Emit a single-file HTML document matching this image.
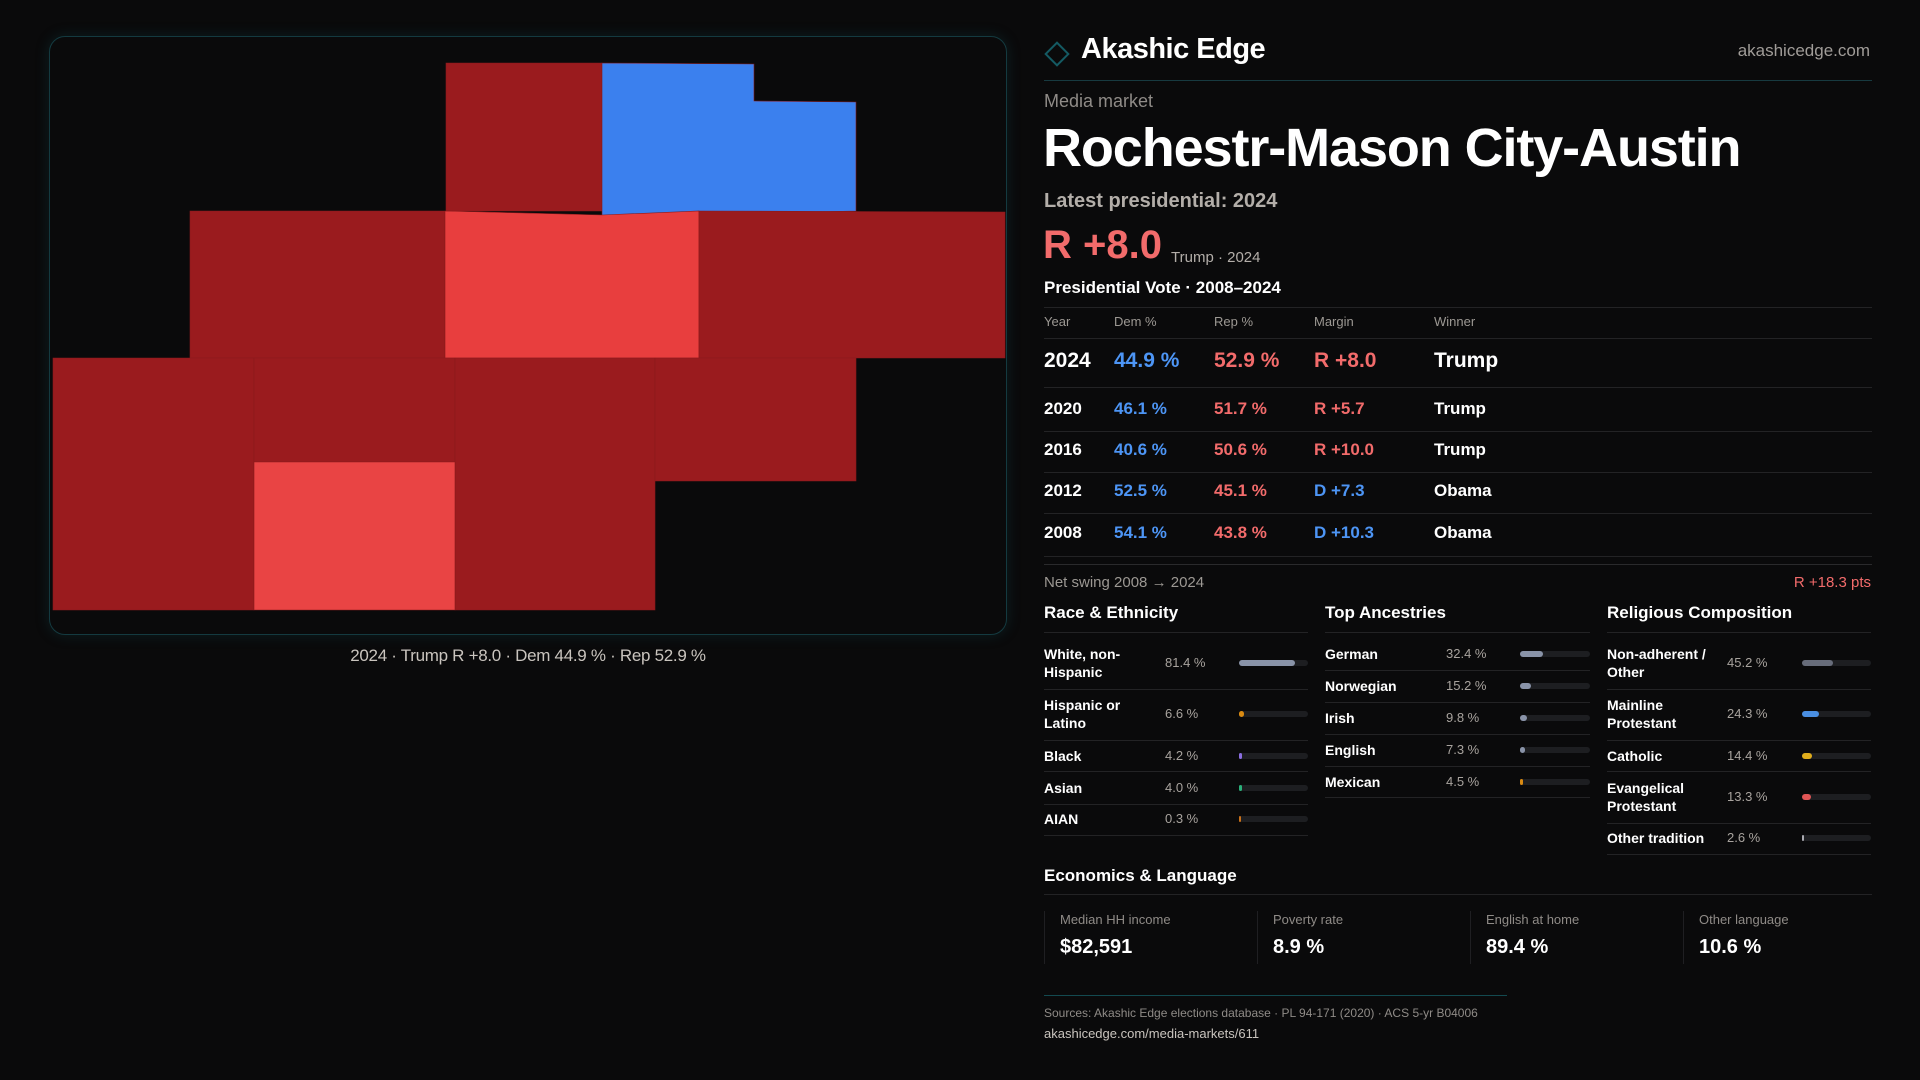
<!DOCTYPE html>
<html><head><meta charset="utf-8">
<style>
*{margin:0;padding:0;box-sizing:border-box}
body{width:1920px;height:1080px;background:#0a0a0b;font-family:"Liberation Sans",sans-serif;color:#fff;position:relative;overflow:hidden}
.a{position:absolute;white-space:nowrap}
.g{color:#9c9893}
.hl{position:absolute;height:1px;background:#232325}
.red{color:#f26b6b}.blue{color:#4d95f5}
</style></head><body>
<div class="a" style="left:49px;top:36px;width:958px;height:599px;border:1px solid #143a40;border-radius:16px;box-shadow:0 0 14px rgba(20,90,100,0.25);background:#0a0a0b"></div>
<svg class="a" style="left:0;top:0" width="1020" height="640" id="map"></svg>
<div class="a" style="left:0;width:1056px;text-align:center;top:646px;font-size:17px;color:#c9c4be;letter-spacing:-0.3px">2024 · Trump R +8.0 · Dem 44.9 % · Rep 52.9 %</div>

<svg class="a" style="left:1043px;top:40px" width="28" height="28"><rect x="6" y="6" width="16" height="16" transform="rotate(45 14 14)" fill="none" stroke="#145a63" stroke-width="2"/></svg>
<div class="a" style="left:1081px;top:33px;font-size:29px;font-weight:bold;letter-spacing:-0.5px">Akashic Edge</div>
<div class="a g" style="right:50px;top:41px;font-size:17px;color:#a09c98">akashicedge.com</div>
<div class="hl" style="left:1044px;top:80px;width:828px;background:#173a40"></div>
<div class="a g" style="left:1044px;top:91px;font-size:18px;color:#8f8b87">Media market</div>
<div class="a" style="left:1043px;top:117px;font-size:54px;font-weight:bold;letter-spacing:-1.1px">Rochestr-Mason City-Austin</div>
<div class="a" style="left:1044px;top:190px;font-size:20px;font-weight:bold;color:#b3aea9">Latest presidential: 2024</div>
<div class="a red" style="left:1043px;top:223px;font-size:40px;font-weight:bold">R +8.0</div>
<div class="a" style="left:1171px;top:249px;font-size:15px;color:#b3aea9">Trump · 2024</div>
<div class="a" style="left:1044px;top:278px;font-size:17px;font-weight:bold">Presidential Vote · 2008–2024</div>
<div id="vt"></div>
<div class="a g" style="left:1044px;top:574px;font-size:15px">Net swing 2008 → 2024</div>
<div class="a red" style="right:49px;top:574px;font-size:15px">R +18.3 pts</div>
<div id="demo"></div>
<div class="a" style="left:1044px;top:866px;font-size:17px;font-weight:bold">Economics &amp; Language</div>
<div class="hl" style="left:1044px;top:894px;width:828px"></div>
<div id="econ"></div>
<div class="hl" style="left:1044px;top:995px;width:463px;background:#134a50"></div>
<div class="a g" style="left:1044px;top:1006px;font-size:12px;color:#8f8b87">Sources: Akashic Edge elections database · PL 94-171 (2020) · ACS 5-yr B04006</div>
<div class="a" style="left:1044px;top:1026px;font-size:13px;color:#c9c4be">akashicedge.com/media-markets/611</div>

<script>
// county map data: margins (R positive) per county
const countyMargins=[18,-6,17,7,18,17,17,17,17,17,8,17];
const countyShapes=[
"446,63 602,63 602,211 446,211",
"602,63 754,64 754,101 856,102 856,211 602,216",
"190,211 445,211 445,358 190,358",
"445,211 602,215 699,211 699,358 445,358",
"699,211 1005,212 1005,358 699,358",
"53,358 254,358 254,610 53,610",
"254,358 455,358 455,462 254,462",
"455,358 655,358 655,610 455,610",
"655,358 856,358 856,481 655,481",
"53,358 53,358 53,358",
"254,462 455,462 455,610 254,610",
"254,358 254,358 254,358"];
function colorFor(m){if(m<0)return '#3b80ee';if(m<10)return m<8?'#e83e3e':'#e94444';return '#9a1b1e';}
const map=document.getElementById('map');
countyShapes.forEach((p,i)=>{const e=document.createElementNS('http://www.w3.org/2000/svg','polygon');
e.setAttribute('points',p);e.setAttribute('fill',colorFor(countyMargins[i]));e.setAttribute('stroke','#8a1a1c');e.setAttribute('stroke-width','0.6');


map.appendChild(e);});

// vote table
const years=['2024','2020','2016','2012','2008'];
const demPct=[44.9,46.1,40.6,52.5,54.1];
const repPct=[52.9,51.7,50.6,45.1,43.8];
const margins=[8.0,5.7,10.0,-7.3,-10.3];
const winners=['Trump','Trump','Trump','Obama','Obama'];
const vt=document.getElementById('vt');
let h='';
const cols=[1044,1114,1214,1314,1434];
['Year','Dem %','Rep %','Margin','Winner'].forEach((t,i)=>{h+=`<div class="a g" style="left:${cols[i]}px;top:314px;font-size:13px">${t}</div>`});
h+='<div class="hl" style="left:1044px;top:307px;width:828px"></div><div class="hl" style="left:1044px;top:338px;width:828px"></div>';
const rowY=[362,409,450,491,533],lineY=[387,431,472,513,556];
years.forEach((y,i)=>{const m=margins[i];const fs=i==0?21:17;const top=rowY[i]-fs*0.6;
const mt=(m>0?'R +':'D +')+Math.abs(m).toFixed(1);
h+=`<div>
<div class="a" style="left:1044px;top:${top}px;font-size:${fs}px;font-weight:bold">${y}</div>
<div class="a blue" style="left:1114px;top:${top}px;font-size:${fs}px;font-weight:bold">${demPct[i].toFixed(1)} %</div>
<div class="a red" style="left:1214px;top:${top}px;font-size:${fs}px;font-weight:bold">${repPct[i].toFixed(1)} %</div>
<div class="a ${m>0?'red':'blue'}" style="left:1314px;top:${top}px;font-size:${fs}px;font-weight:bold">${mt}</div>
<div class="a" style="left:1434px;top:${top}px;font-size:${fs}px;font-weight:bold">${winners[i]}</div></div>
<div class="hl" style="left:1044px;top:${lineY[i]}px;width:828px"></div>`;});
h+='<div class="hl" style="left:1044px;top:564px;width:828px;background:#2a2a2c"></div>';
vt.innerHTML=h;

// demographics
const raceLabels=['White, non-<br>Hispanic','Hispanic or<br>Latino','Black','Asian','AIAN'];
const raceValues=[81.4,6.6,4.2,4.0,0.3];
const raceColors=['#8993a8','#d98a12','#8a6ee0','#2bb07a','#c9711a'];
const ancLabels=['German','Norwegian','Irish','English','Mexican'];
const ancValues=[32.4,15.2,9.8,7.3,4.5];
const ancColors=['#8993a8','#8993a8','#8993a8','#8993a8','#d98a12'];
const relLabels=['Non-adherent /<br>Other','Mainline<br>Protestant','Catholic','Evangelical<br>Protestant','Other tradition'];
const relValues=[45.2,24.3,14.4,13.3,2.6];
const relColors=['#676c7a','#4a8fe2','#e0ad1c','#e05555','#a9a9b0'];
const sections=[
{t:'Race & Ethnicity',x:1044,vx:1165,bx:1239,bw:69,L:raceLabels,V:raceValues,C:raceColors,cy:[663,714,756,788,819],ly:[689,740,771,804,835]},
{t:'Top Ancestries',x:1325,vx:1446,bx:1520,bw:70,L:ancLabels,V:ancValues,C:ancColors,cy:[654,686,718,750,782],ly:[670,702,734,766,797]},
{t:'Religious Composition',x:1607,vx:1727,bx:1802,bw:69,L:relLabels,V:relValues,C:relColors,cy:[663,714,756,797,838],ly:[689,740,771,823,854]}];
let d='';
sections.forEach((s,k)=>{
d+=`<div class="a" style="left:${s.x}px;top:603px;font-size:17px;font-weight:bold">${s.t.replace('&','&amp;')}</div>`;
d+=`<div class="hl" style="left:${s.x}px;top:632px;width:${s.bx+s.bw-s.x}px"></div>`;
s.L.forEach((l,i)=>{const two=l.includes('<br>');const cy=s.cy[i];
d+=`<div><div class="a" style="left:${s.x}px;top:${cy-(two?18:9)}px;font-size:14px;font-weight:bold;line-height:18px">${l}</div>
<div class="a g" style="left:${s.vx}px;top:${cy-8}px;font-size:13px;color:#a8a39e">${s.V[i].toFixed(1)} %</div>
<div class="a" style="left:${s.bx}px;top:${cy-3}px;width:${s.bw}px;height:6px;border-radius:3px;background:#1d1e21"></div>
<div class="a" style="left:${s.bx}px;top:${cy-3}px;width:${Math.max(2,s.bw*s.V[i]/100)}px;height:6px;border-radius:3px;background:${s.C[i]}"></div></div>
<div class="hl" style="left:${s.x}px;top:${s.ly[i]}px;width:${s.bx+s.bw-s.x}px"></div>`;});});
document.getElementById('demo').innerHTML=d;

const econLabels=['Median HH income','Poverty rate','English at home','Other language'];
const econValues=['$82,591','8.9 %','89.4 %','10.6 %'];
let e='';
econLabels.forEach((l,i)=>{const x=1044+i*213;
e+=`<div class="a" style="left:${x}px;top:911px;width:200px;height:53px;border-left:1px solid #1f1f22">
<div class="a g" style="left:15px;top:1px;font-size:13px;color:#8f8b87">${l}</div>
<div class="a" style="left:15px;top:25px;font-size:20px;font-weight:bold">${econValues[i]}</div></div>`;});
document.getElementById('econ').innerHTML=e;
</script>
</body></html>
